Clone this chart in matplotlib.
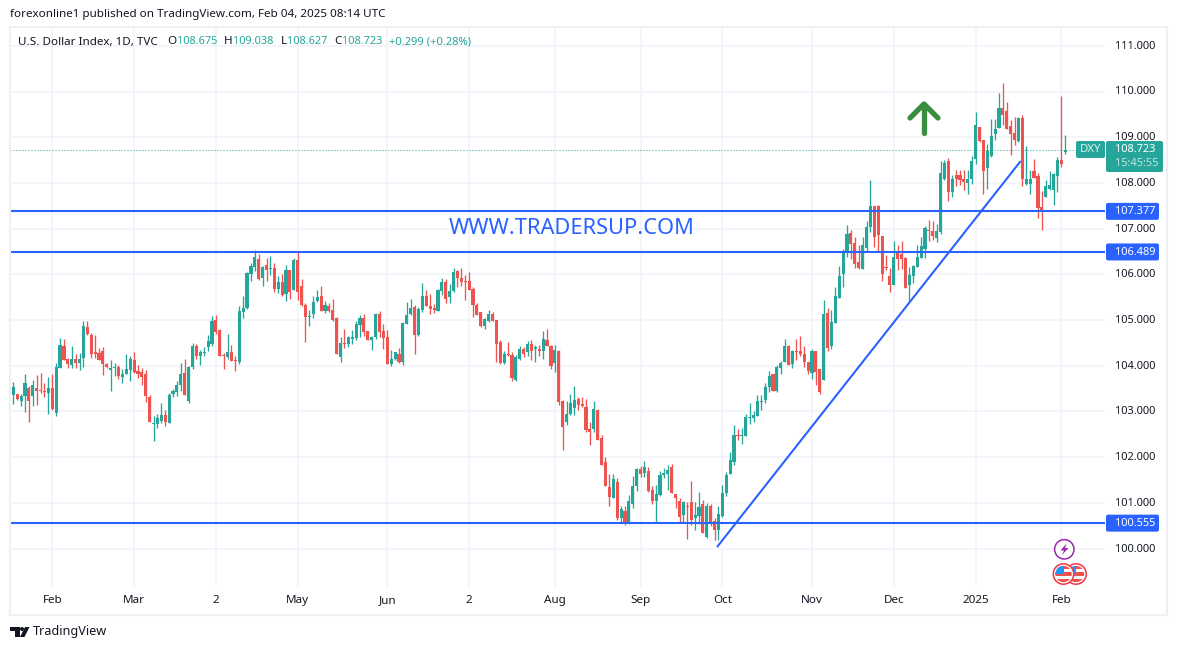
import numpy as np
import matplotlib
matplotlib.use("Agg")
import matplotlib.pyplot as plt
from matplotlib.patches import Circle, FancyBboxPatch, Polygon, Rectangle

W, H = 1177, 650
FONT = "Noto Sans"
UP = "#26a69a"
DOWN = "#ef5350"
BLUE = "#2962ff"
INK = "#131722"
GRID = "#f0f3fa"

opens = [103.34,
    103.36,103.38,103.23,103.34,103.51,103.34,103.51,103.47,103.45,103.40,
    103.51,102.96,103.95,104.43,104.15,104.01,104.15,104.06,104.17,104.85,
    104.67,104.30,104.28,104.32,104.04,103.91,103.95,103.97,103.75,103.82,
    103.91,104.12,103.88,103.86,103.82,103.31,102.72,102.72,102.79,102.92,
    102.75,103.38,103.42,103.58,103.84,103.23,103.97,104.43,104.21,104.28,
    104.41,104.47,105.00,104.78,104.23,104.19,104.30,104.12,104.08,105.17,
    105.26,106.01,106.16,106.33,105.92,106.20,106.12,106.14,105.68,105.83,
    105.57,106.09,105.66,106.31,105.74,105.33,105.07,105.13,105.42,105.52,
    105.20,105.31,105.22,105.04,104.19,104.50,104.47,104.58,104.60,104.89,
    105.04,104.76,104.56,104.63,105.13,104.76,104.63,104.04,104.15,104.25,
    104.08,104.91,105.13,105.28,104.67,105.22,105.52,105.30,105.26,105.20,
    105.63,105.83,105.50,105.63,106.07,105.92,105.85,105.85,105.68,105.33,
    105.17,104.87,104.98,105.13,105.00,104.52,104.06,104.25,104.23,103.69,
    104.15,104.36,104.30,104.47,104.36,104.36,104.32,104.56,104.43,104.06,
    104.32,103.23,102.77,102.94,103.07,103.27,103.16,103.09,102.61,102.61,
    103.03,102.42,101.89,101.34,101.10,101.45,100.66,100.82,100.54,100.97,
    101.37,101.74,101.65,101.69,101.28,101.04,101.17,101.61,101.63,101.78,
    101.19,101.04,100.73,100.93,101.02,100.67,100.71,100.97,100.25,100.93,
    100.60,100.41,100.71,101.21,101.63,101.89,102.48,102.46,102.46,102.86,
    102.86,102.90,103.21,103.25,103.53,103.82,103.45,103.95,104.08,104.43,
    104.04,104.32,104.32,104.26,104.08,103.84,104.32,103.93,103.69,105.15,
    104.43,104.93,105.48,106.01,106.49,106.90,106.69,106.27,106.12,106.58,
    107.04,107.50,107.50,106.84,106.16,105.96,105.77,106.49,106.44,106.36,
    105.77,105.96,106.16,106.36,106.55,106.97,106.95,106.79,106.92,108.09,
    108.48,107.80,108.17,108.17,108.09,108.00,108.09,108.52,109.22,108.94,
    108.33,108.59,109.07,109.20,109.64,109.57,109.24,109.09,108.92,109.42,
    107.98,107.98,108.26,108.15,107.47,107.69,107.87,107.84,108.15,108.50,108.675]

closes = [103.45,
    103.53,103.27,103.34,103.62,103.23,103.58,103.45,103.45,103.42,103.51,
    103.05,103.97,104.45,104.12,104.04,104.15,104.06,104.15,104.87,104.69,
    104.26,104.26,104.12,104.04,103.97,103.95,103.97,103.77,103.82,103.93,
    104.15,103.86,103.82,103.75,103.34,102.77,102.75,102.86,102.92,102.77,
    103.36,103.45,103.58,103.82,103.36,103.97,104.43,104.21,104.30,104.30,
    104.54,104.98,104.74,104.21,104.21,104.30,104.10,104.10,105.20,105.26,
    106.03,106.18,106.38,105.90,106.16,106.09,106.14,105.68,105.83,105.55,
    106.09,105.61,106.31,105.61,105.33,105.07,105.09,105.39,105.50,105.20,
    105.33,105.20,105.00,104.26,104.50,104.47,104.63,104.63,104.91,105.04,
    104.74,104.56,104.63,105.13,104.74,104.60,104.04,104.15,104.30,104.08,
    104.93,105.11,105.26,104.67,105.24,105.52,105.30,105.24,105.22,105.65,
    105.83,105.46,105.63,106.05,105.92,105.83,105.83,105.65,105.33,105.11,
    104.87,105.02,105.13,104.98,104.47,104.06,104.25,104.23,103.73,104.19,
    104.36,104.25,104.47,104.32,104.41,104.32,104.58,104.43,103.99,104.34,
    103.20,102.66,102.94,103.18,103.25,103.14,103.12,102.59,102.55,103.05,
    102.37,101.83,101.37,101.12,101.52,100.66,100.86,100.54,101.04,101.37,
    101.74,101.63,101.78,101.26,101.04,101.19,101.61,101.65,101.72,101.21,
    101.10,100.69,101.02,100.91,100.62,100.73,100.91,100.34,100.93,100.54,
    100.41,100.75,101.21,101.61,101.94,102.48,102.46,102.48,102.88,102.88,
    102.92,103.23,103.23,103.53,103.77,103.45,103.97,104.06,104.43,104.02,
    104.32,104.30,104.26,104.08,103.88,104.32,103.86,103.42,105.13,104.39,
    104.96,105.53,105.96,106.51,106.88,106.66,106.23,106.14,106.64,107.04,
    107.50,106.82,106.86,106.01,106.14,105.77,106.38,106.34,106.34,105.70,
    105.99,106.18,106.38,106.62,107.01,106.95,106.84,106.95,108.22,108.43,
    107.80,108.09,108.09,108.06,108.02,108.09,108.48,109.27,108.92,108.26,
    108.70,109.03,109.18,109.64,109.49,109.18,109.07,108.94,109.42,108.08,
    108.08,108.08,108.11,107.45,107.41,107.93,107.95,108.20,108.50,108.41,108.723]

highs = [103.45,
    103.64,103.38,103.38,103.82,103.56,103.69,103.80,103.84,103.62,103.75,
    103.82,104.06,104.61,104.58,104.17,104.43,104.26,104.28,104.98,104.98,
    104.71,104.67,104.39,104.41,104.06,104.12,104.06,104.01,103.93,104.26,
    104.21,104.30,104.01,103.95,103.91,103.36,102.90,102.94,103.18,103.03,
    103.40,103.49,103.66,104.06,104.15,103.99,104.50,104.47,104.34,104.41,
    104.67,105.09,105.11,104.80,104.28,104.69,104.45,104.21,105.31,105.52,
    106.05,106.25,106.53,106.44,106.18,106.36,106.40,106.25,105.96,106.01,
    106.20,106.09,106.36,106.49,105.90,105.37,105.22,105.52,105.66,105.74,
    105.42,105.37,105.46,105.07,104.63,104.80,104.65,104.78,104.98,105.11,
    105.13,104.76,104.65,105.15,105.20,104.91,104.78,104.34,104.30,104.39,
    104.95,105.39,105.46,105.33,105.28,105.81,105.65,105.57,105.35,105.68,
    105.92,105.90,105.79,106.14,106.09,106.14,105.98,106.05,105.72,105.37,
    105.17,105.04,105.22,105.17,105.00,104.56,104.32,104.52,104.30,104.23,
    104.43,104.41,104.54,104.56,104.45,104.45,104.76,104.80,104.45,104.45,
    104.34,103.25,103.23,103.38,103.55,103.31,103.31,103.27,102.77,103.23,
    103.05,102.48,102.00,101.63,101.63,101.54,100.93,100.93,101.17,101.58,
    101.76,101.80,101.91,101.78,101.37,101.39,101.69,101.76,101.83,101.85,
    101.19,101.10,101.04,101.02,101.48,101.02,101.24,101.06,100.99,100.97,
    100.67,100.93,101.39,101.67,102.11,102.70,102.62,102.64,102.94,103.18,
    103.01,103.36,103.36,103.62,103.88,103.82,104.02,104.10,104.59,104.45,
    104.34,104.59,104.65,104.43,104.08,104.37,104.32,103.93,105.44,105.26,
    105.22,105.72,106.18,106.55,107.08,106.97,106.82,106.64,106.82,107.17,
    108.06,107.50,107.52,106.84,106.42,106.14,106.73,106.64,106.73,106.38,
    106.16,106.20,106.64,106.82,107.06,107.19,107.17,107.10,108.49,108.50,
    108.54,108.17,108.28,108.28,108.28,108.28,108.59,109.55,109.22,108.94,
    108.85,109.40,109.40,109.97,110.19,109.77,109.38,109.44,109.44,109.49,
    108.81,108.28,108.52,108.22,107.82,108.06,108.26,108.22,108.57,109.90,109.038]

lows = [103.34,
    103.16,103.25,103.12,102.99,102.77,103.12,103.14,103.40,103.31,102.94,
    103.03,102.90,103.95,104.12,103.95,103.95,103.95,103.91,103.97,104.67,
    104.17,104.17,104.12,103.80,103.95,103.45,103.77,103.71,103.62,103.82,
    103.66,103.84,103.73,103.58,103.20,102.77,102.35,102.64,102.75,102.68,
    102.75,103.31,103.34,103.45,103.36,103.18,103.93,104.15,104.01,104.21,
    104.32,104.43,104.69,104.21,103.93,104.15,104.10,103.88,104.04,105.04,
    105.24,105.85,106.07,105.87,105.74,105.85,105.98,105.61,105.59,105.52,
    105.42,105.46,105.66,105.44,105.31,104.52,104.87,105.04,105.39,105.20,
    105.15,105.17,104.98,104.26,104.08,104.39,104.41,104.47,104.56,104.63,
    104.65,104.56,104.34,104.58,104.63,104.36,104.04,103.99,104.12,104.06,
    104.01,104.91,105.11,104.25,104.65,105.17,105.30,105.13,105.15,105.20,
    105.55,105.37,105.37,105.61,105.72,105.74,105.44,105.65,105.06,105.11,
    104.85,104.80,104.95,104.98,104.08,104.04,104.04,104.21,103.66,103.66,
    104.12,104.19,104.21,104.12,104.08,104.21,104.15,104.43,103.93,103.86,
    103.14,102.15,102.70,102.92,102.92,103.03,103.09,102.55,102.26,102.55,
    102.37,101.83,101.37,100.93,101.10,100.62,100.56,100.51,100.54,100.89,
    101.26,101.56,101.56,101.23,100.97,100.56,101.15,101.54,101.28,101.21,
    100.89,100.56,100.56,100.21,100.51,100.41,100.54,100.34,100.23,100.49,
    100.19,100.19,100.69,101.15,101.63,101.83,102.37,102.29,102.46,102.72,
    102.77,102.90,103.03,103.18,103.42,103.45,103.42,103.82,104.08,104.02,
    103.95,104.12,104.21,103.97,103.82,103.71,103.58,103.38,103.69,104.32,
    104.37,104.93,105.48,105.72,106.38,106.33,106.14,106.12,106.12,106.49,
    106.93,106.60,106.51,105.85,106.09,105.61,105.77,106.09,106.12,105.70,
    105.42,105.81,106.16,106.36,106.36,106.73,106.75,106.71,106.88,108.06,
    107.60,107.69,107.93,107.95,107.84,107.76,107.98,108.41,108.89,107.76,
    107.87,108.57,108.94,109.20,109.27,109.18,108.61,108.83,108.89,107.93,
    107.95,107.76,108.11,107.23,106.97,107.69,107.84,107.52,107.80,108.35,108.627]

y_ticks = [100, 101, 102, 103, 104, 105, 106, 107, 108, 109, 110, 111]
x_tick_pos = [11, 32, 53, 74, 97, 118, 140, 162, 183, 206, 227, 248, 270]
x_tick_labels = ["Feb", "Mar", "2", "May", "Jun", "2", "Aug", "Sep", "Oct", "Nov", "Dec", "2025", "Feb"]
levels = [107.377, 106.489, 100.555]
last_price = 108.723
trend_x = [181.8, 259.4]
trend_y = [100.05, 108.46]

fig = plt.figure(figsize=(W / 100, H / 100), dpi=100, facecolor="white")
plt.rcParams["font.family"] = FONT

# price pane, placed by pixels
ax = fig.add_axes([10 / W, 1 - 587 / H, 1095 / W, 560 / H])
step = 3.896
ax.set_xlim((10 - 9.4) / step, (1105 - 9.4) / step)
ax.set_ylim(100 + (548.5 - 587) / 45.7, 100 + (548.5 - 27) / 45.7)
for side in ax.spines.values():
    side.set_visible(False)
ax.set_xticks(x_tick_pos)
ax.set_yticks(y_ticks)
ax.tick_params(length=0, labelbottom=False, labelleft=False)
ax.grid(True, color=GRID, lw=1.1)
ax.set_axisbelow(True)

# candles
x = np.arange(len(opens))
o, h, l, c = map(np.array, (opens, highs, lows, closes))
colors = [UP if a >= b else DOWN for a, b in zip(c, o)]
wicks = ax.vlines(x, l, h, colors=colors, lw=0.95, zorder=2)
wicks.set_snap(True)
ax.bar(x, np.maximum(np.abs(c - o), 0.025), bottom=np.minimum(o, c), width=0.8,
       color=colors, lw=0, zorder=3)

# drawings
for lvl in levels:
    ax.axhline(lvl, color=BLUE, lw=1.5, zorder=4)
dots = ax.axhline(last_price, color=UP, lw=0.72, ls=(0, (1, 2)), zorder=1)
dots.set_snap(True)
ax.plot(trend_x, trend_y, color=BLUE, lw=1.5, zorder=4)

# everything else in pixel coordinates
ov = fig.add_axes([0, 0, 1, 1], facecolor="none")
ov.set_xlim(0, W)
ov.set_ylim(H, 0)
ov.axis("off")

ov.add_patch(Rectangle((10, 26.5), 1157, 588, fill=False, ec="#eff0f3", lw=1.5))


def txt(px, py, s, size=8.4, color=INK, ha="left", **kw):
    return ov.text(px, py, s, fontsize=size, color=color, ha=ha, va="center", family=FONT, **kw)


NUM = 7.9

txt(10, 15, "forexonline1 published on TradingView.com, Feb 04, 2025 08:14 UTC", 8.4)
txt(18, 42, "U.S. Dollar Index, 1D, TVC", 8.4)
for lx, lab, vx, val in [(167, "O", 177, "108.675"), (224, "H", 233, "109.038"),
                         (281, "L", 287, "108.627"), (334, "C", 342, "108.723")]:
    txt(lx, 42, lab, 8.4)
    txt(vx, 42, val, NUM, color=UP)
txt(389, 42, "+0.299 (+0.28%)", 8.1, color=UP)

txt(449, 228, "WWW.TRADERSUP.COM", 15.7, color=BLUE)

# y axis labels
for t in y_ticks:
    txt(1115, 549 - (t - 100) * 45.7, f"{t:.3f}", NUM)

# x axis labels
for pos, lab in zip(x_tick_pos, x_tick_labels):
    txt(9.4 + pos * step, 600.5, lab, 8.4, ha="center",
        weight="bold" if lab == "2025" else "normal")


def box(x0, y0, x1, y1, color):
    ov.add_patch(FancyBboxPatch((x0 + 2, y0 + 2), x1 - x0 - 4, y1 - y0 - 4,
                                boxstyle="round,pad=2,rounding_size=2", fc=color, ec="none"))


for lvl in levels:
    ly = 548.5 - (lvl - 100) * 45.7
    box(1106, ly - 8.5, 1159, ly + 8.5, BLUE)
    txt(1115, ly + 0.5, f"{lvl:.3f}", NUM, color="white")

box(1076, 141, 1105, 158, UP)
txt(1090.5, 149.8, "DXY", 8.2, color="#d8f0ed", ha="center")
box(1106, 141, 1163, 172, UP)
txt(1115, 150, f"{last_price:.3f}", NUM, color="white")
txt(1115, 163.5, "15:45:55", NUM, color="#bfe6e1")

# green arrow
arrow_kw = dict(color="#388e3c", lw=3.8, solid_capstyle="round", solid_joinstyle="round")
ov.plot([924, 924], [104, 133], **arrow_kw)
ov.plot([910, 924, 938], [118, 104, 118], **arrow_kw)

# event icons
ov.add_patch(Circle((1064.3, 549.3), 9.7, fc="white", ec="#9c27b0", lw=1.1))
ov.add_patch(Polygon([(1066.5, 543.5), (1060.5, 550.5), (1064, 550.5), (1062, 555),
                      (1068.5, 548), (1065, 548)], fc="#9c27b0", ec="none"))


def flag(cx, cy, z, r=10.2):
    ov.add_patch(Circle((cx, cy), r, fc="white", ec="#f23645", lw=1.1, zorder=z))
    inner = Circle((cx, cy), r - 2, transform=ov.transData)
    for k, col in enumerate(["#ef5350", "white", "#ef5350", "white", "#ef5350"]):
        s = Rectangle((cx - r, cy - 8 + k * 3.2), 2 * r, 3.2, fc=col, ec="none", zorder=z + 0.1)
        ov.add_patch(s)
        s.set_clip_path(inner)
    cn = Rectangle((cx - r, cy - 9), r, 8.5, fc="#2196f3", ec="none", zorder=z + 0.2)
    ov.add_patch(cn)
    cn.set_clip_path(inner)


flag(1076, 574, 5)
flag(1063.5, 574, 6)

# logo
ov.add_patch(Polygon([(10, 627), (19.5, 627), (19.5, 637), (15, 637), (15, 631), (10, 631)],
                     fc=INK, ec="none"))
ov.add_patch(Circle((22, 629), 2, fc=INK, ec="none"))
ov.add_patch(Polygon([(25, 627), (29.5, 627), (24.5, 637), (20, 637)], fc=INK, ec="none"))
txt(33, 632, "TradingView", 9.1)

fig.savefig("out.png", dpi=100)
